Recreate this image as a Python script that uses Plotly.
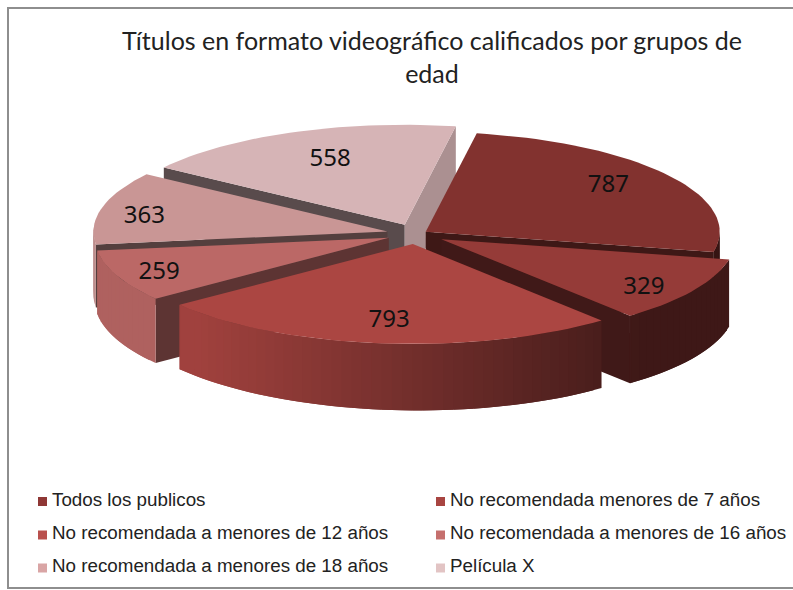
import numpy as np
import plotly.graph_objects as go

W, H = 793, 590
categories = ["Todos los publicos", "No recomendada menores de 7 años",
              "No recomendada a menores de 12 años", "No recomendada a menores de 16 años",
              "No recomendada a menores de 18 años", "Película X"]
values = [787, 329, 793, 259, 363, 558]
explode = [0.04, 0.1, 0.1, 0.1, 0.1, 0.1]
top_colors = ["#82322F", "#953B38", "#AB4642", "#BB6866", "#C99695", "#D6B4B6"]
legend_colors = ["#8F3735", "#A84541", "#B9504D", "#C56F6D", "#D9A5A5", "#E2C4C4"]
start_cut = [0.48, 0.43, 0.45, 0.50, 0.42, 0.42]
end_cut = [0.48, 0.43, 0.45, 0.50, 0.42, 0.80]
label_r = [0.79, 0.83, 0.74, 0.845, 0.845, 0.725]
label_turn = [-4, 3, 0, 0, -2, 2]
draw_order = [5, 0, 4, 1, 3, 2]
title = "Títulos en formato videográfico calificados por grupos de<br>edad"

first_angle = 10.0
cx, cy, rx, ry = 416, 234, 294, 100


def hexmul(col, f):
    r, g, b = (int(col[i:i + 2], 16) for i in (1, 3, 5))
    return f"rgb({int(r * f)},{int(g * f)},{int(b * f)})"


def depth(X, Y):
    return 65 + 2 * X - 1.5 * Y


def sx(X, off):
    return off[0] + rx * X


def sy(Y, off):
    return off[1] - ry * Y


fig = go.Figure()


def poly(xs, ys, color):
    fig.add_trace(go.Scatter(x=xs, y=ys, mode="lines", fill="toself", fillcolor=color,
                             line=dict(width=0), hoverinfo="skip", showlegend=False))


total = sum(values)
spans = np.array(values) / total * 360
starts = first_angle + np.concatenate([[0], np.cumsum(spans)[:-1]])
text_x, text_y = [0] * 6, [0] * 6

for i in draw_order:
    a0, a1 = starts[i], starts[i] + spans[i]
    mid_deg = (a0 + a1) / 2
    mid = np.radians(mid_deg)
    off = (cx + explode[i] * rx * np.sin(mid), cy - explode[i] * ry * np.cos(mid))
    th = np.radians(np.arange(a0, a1, 2.0).tolist() + [a1])
    X, Y = np.sin(th), np.cos(th)
    px, py = sx(X, off), sy(Y, off)

    # flat cut faces that look towards the viewer
    if np.sin(np.radians(a0)) < 0:
        d0 = depth(X[0], Y[0])
        poly([off[0], px[0], px[0], off[0], off[0]],
             [off[1], py[0], py[0] + d0, off[1] + d0, off[1]], hexmul(top_colors[i], start_cut[i]))
    if np.sin(np.radians(a1)) > 0:
        d1 = depth(X[-1], Y[-1])
        poly([off[0], px[-1], px[-1], off[0], off[0]],
             [off[1], py[-1], py[-1] + d1, off[1] + d1, off[1]], hexmul(top_colors[i], end_cut[i]))

    # outer rim, shaded from left to right; each piece overlaps the next one
    n = len(th)
    for k in range(n - 1):
        if Y[k] > 0.02 and Y[k + 1] > 0.02:
            continue
        e = min(k + 2, n - 1)
        idx = list(range(k, e + 1))
        xm = (X[k] + X[k + 1]) / 2
        f = float(np.clip(0.67 - 0.37 * xm, 0.42, 0.94))
        top_x = px[idx].tolist()
        top_y = py[idx].tolist()
        low_y = [py[j] + depth(X[j], Y[j]) for j in idx]
        poly(top_x + top_x[::-1] + [top_x[0]], top_y + low_y[::-1] + [top_y[0]],
             hexmul(top_colors[i], f))

    # top surface
    poly([off[0]] + px.tolist() + [off[0]], [off[1]] + py.tolist() + [off[1]], top_colors[i])

    lab = np.radians(mid_deg + label_turn[i])
    text_x[i] = off[0] + label_r[i] * rx * np.sin(lab)
    text_y[i] = off[1] - label_r[i] * ry * np.cos(lab) + 3

fig.add_trace(go.Scatter(x=text_x, y=text_y, mode="text", text=[str(v) for v in values],
                         textfont=dict(family="Noto Sans", size=24, color="#111111"),
                         hoverinfo="skip", showlegend=False))

# legend: two columns, three rows
marker_x = [42.5, 440.5]
marker_y = [501.5, 535, 568]
label_x = [52, 450]
label_y = [501, 534, 567.5]
for i, name in enumerate(categories):
    fig.add_trace(go.Scatter(x=[marker_x[i % 2]], y=[marker_y[i // 2]], mode="markers",
                             marker=dict(symbol="square", size=9, color=legend_colors[i]),
                             hoverinfo="skip", showlegend=False, cliponaxis=False))
    fig.add_trace(go.Scatter(x=[label_x[i % 2]], y=[label_y[i // 2]], mode="text",
                             text=[name], textposition="middle right",
                             textfont=dict(family="Liberation Sans", size=18.8, color="#222222"),
                             hoverinfo="skip", showlegend=False, cliponaxis=False))

fig.update_layout(
    width=W, height=H, margin=dict(l=0, r=0, t=0, b=0),
    paper_bgcolor="white", plot_bgcolor="white", showlegend=False,
    title=dict(text=title, x=432 / W, xanchor="center", y=1 - 50 / H, yanchor="middle",
               font=dict(family="Lato", size=25, color="#222222")),
    xaxis=dict(range=[0, W], visible=False, fixedrange=True),
    yaxis=dict(range=[H, 0], visible=False, fixedrange=True),
    shapes=[dict(type="rect", xref="x", yref="y", x0=8, y0=8, x1=W + 10, y1=588,
                 line=dict(color="#8E8E8E", width=2), layer="below")],
)
fig.write_html("out.html", post_script="document.body.style.margin='0';", config={"displayModeBar": False})
